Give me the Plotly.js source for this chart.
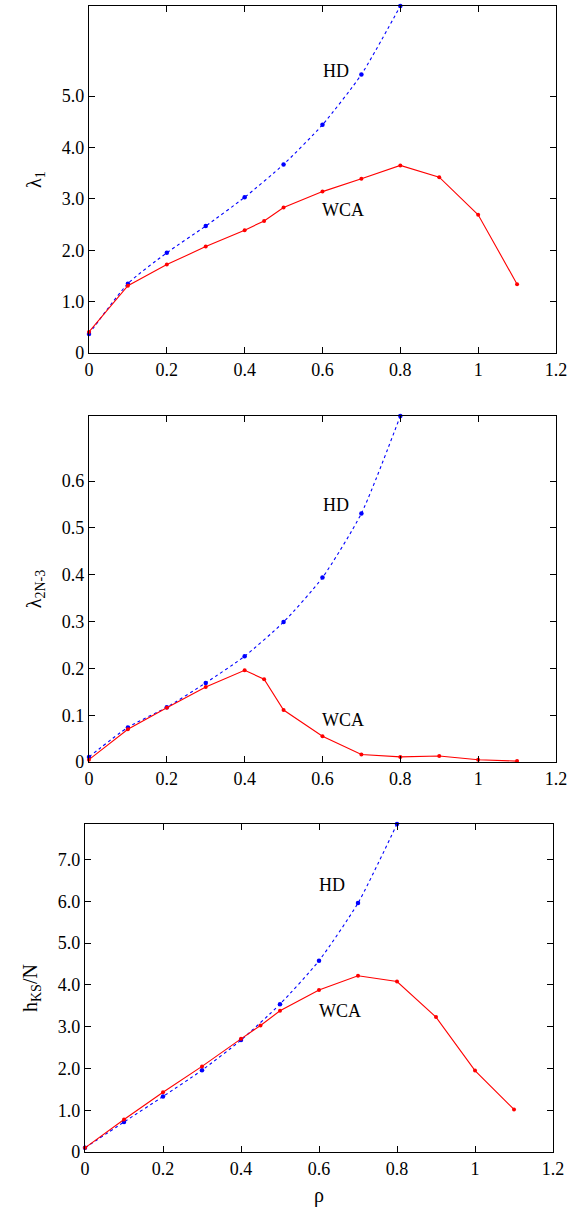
<!DOCTYPE html>
<html>
<head>
<meta charset="utf-8">
<script src="https://cdn.plot.ly/plotly-3.0.1.min.js"></script>
<style>html,body{margin:0;padding:0;background:#fff;}#chart{width:585px;height:1209px;}</style>
</head>
<body>
<div id="chart"></div>
<script>
// density values
const rhoHD = [0, 0.1, 0.2, 0.3, 0.4, 0.5, 0.6, 0.7, 0.8];
const rhoWCA = [0, 0.1, 0.2, 0.3, 0.4, 0.45, 0.5, 0.6, 0.7, 0.8, 0.9, 1.0, 1.1];

// panel 1: largest Lyapunov exponent
const lam1HD = [0.37, 1.35, 1.95, 2.47, 3.03, 3.67, 4.44, 5.42, 6.75];
const lam1WCA = [0.41, 1.31, 1.72, 2.07, 2.39, 2.57, 2.83, 3.14, 3.39, 3.65, 3.42, 2.69, 1.34];

// panel 2: smallest positive exponent
const lamMinHD = [0.011, 0.074, 0.117, 0.169, 0.226, 0.299, 0.394, 0.531, 0.739];
const lamMinWCA = [0.005, 0.070, 0.116, 0.160, 0.196, 0.177, 0.111, 0.055, 0.016, 0.011, 0.013, 0.005, 0.002];

// panel 3: KS entropy per particle
const hksHD = [0.10, 0.72, 1.33, 1.96, 2.68, 3.54, 4.58, 5.96, 7.85];
const hksWCA = [0.10, 0.78, 1.43, 2.05, 2.71, 3.03, 3.38, 3.88, 4.22, 4.08, 3.23, 1.95, 1.02];

const xTickVals = [0, 0.2, 0.4, 0.6, 0.8, 1, 1.2];
const xTickText = ["0", "0.2", "0.4", "0.6", "0.8", "1", "1.2"];
const y1TickVals = [0, 1, 2, 3, 4, 5];
const y1TickText = ["0", "1.0", "2.0", "3.0", "4.0", "5.0"];
const y2TickVals = [0, 0.1, 0.2, 0.3, 0.4, 0.5, 0.6];
const y2TickText = ["0", "0.1", "0.2", "0.3", "0.4", "0.5", "0.6"];
const y3TickVals = [0, 1, 2, 3, 4, 5, 6, 7];
const y3TickText = ["0", "1.0", "2.0", "3.0", "4.0", "5.0", "6.0", "7.0"];

const FONT = "Liberation Serif";
const RED = "#ff0000", BLUE = "#0000ff";

function hd(y, xa, ya) {
  return {x: rhoHD, y: y, xaxis: xa, yaxis: ya, type: "scatter", mode: "lines+markers",
    line: {color: BLUE, width: 1.1, dash: "dot", shape: "spline", smoothing: 0.6},
    marker: {color: BLUE, size: 4.5}, cliponaxis: false, showlegend: false, hoverinfo: "skip"};
}
function wca(y, xa, ya) {
  return {x: rhoWCA, y: y, xaxis: xa, yaxis: ya, type: "scatter", mode: "lines+markers",
    line: {color: RED, width: 1.1}, marker: {color: RED, size: 4}, cliponaxis: false,
    showlegend: false, hoverinfo: "skip"};
}

const data = [
  hd(lam1HD, "x", "y"), wca(lam1WCA, "x", "y"),
  hd(lamMinHD, "x2", "y2"), wca(lamMinWCA, "x2", "y2"),
  hd(hksHD, "x3", "y3"), wca(hksWCA, "x3", "y3")
];

function xax(domain, anchor, title) {
  const a = {domain: domain, anchor: anchor, range: [0, 1.2], tickvals: xTickVals, ticktext: xTickText,
    ticks: "inside", ticklen: 6, tickwidth: 1, tickcolor: "#000", showline: true, linecolor: "#000",
    linewidth: 1.2, mirror: "allticks", showgrid: false, zeroline: false,
    tickfont: {family: FONT, size: 18, color: "#000"}};
  if (title) a.title = {text: title, font: {family: FONT, size: 20, color: "#000"}, standoff: 10};
  return a;
}
function yax(domain, anchor, range, tv, tt, title) {
  return {domain: domain, anchor: anchor, range: range, tickvals: tv, ticktext: tt,
    ticks: "inside", ticklen: 6, tickwidth: 1, tickcolor: "#000", showline: true, linecolor: "#000",
    linewidth: 1.2, mirror: "allticks", showgrid: false, zeroline: false,
    tickfont: {family: FONT, size: 18, color: "#000"},
    title: {text: title, font: {family: FONT, size: 20, color: "#000"}, standoff: 14}};
}

const annFont = {family: FONT, size: 18, color: "#000"};
function ann(x, y, xr, yr, text) {
  return {x: x, y: y, xref: xr, yref: yr, text: text, showarrow: false, font: annFont};
}

const layout = {
  width: 585, height: 1209,
  margin: {l: 0, r: 0, t: 0, b: 0},
  paper_bgcolor: "#fff", plot_bgcolor: "#fff",
  font: {family: FONT, color: "#000"},
  xaxis: xax([0.1521, 0.9504], "y"),
  yaxis: yax([0.708, 0.995], "x", [0, 6.75], y1TickVals, y1TickText, "λ<sub>1</sub>"),
  xaxis2: xax([0.1521, 0.9504], "y2"),
  yaxis2: yax([0.3697, 0.6559], "x2", [0, 0.739], y2TickVals, y2TickText, "λ<sub>2N-3</sub>"),
  xaxis3: xax([0.1453, 0.9453], "y3", "ρ"),
  yaxis3: yax([0.0471, 0.3184], "x3", [0, 7.85], y3TickVals, y3TickText, "h<sub>KS</sub>/N"),
  annotations: [
    ann(0.634, 5.48, "x", "y", "HD"), ann(0.653, 2.78, "x", "y", "WCA"),
    ann(0.634, 0.55, "x2", "y2", "HD"), ann(0.653, 0.09, "x2", "y2", "WCA"),
    ann(0.633, 6.38, "x3", "y3", "HD"), ann(0.654, 3.38, "x3", "y3", "WCA")
  ]
};

Plotly.newPlot("chart", data, layout, {staticPlot: true, displayModeBar: false});
</script>
</body>
</html>
